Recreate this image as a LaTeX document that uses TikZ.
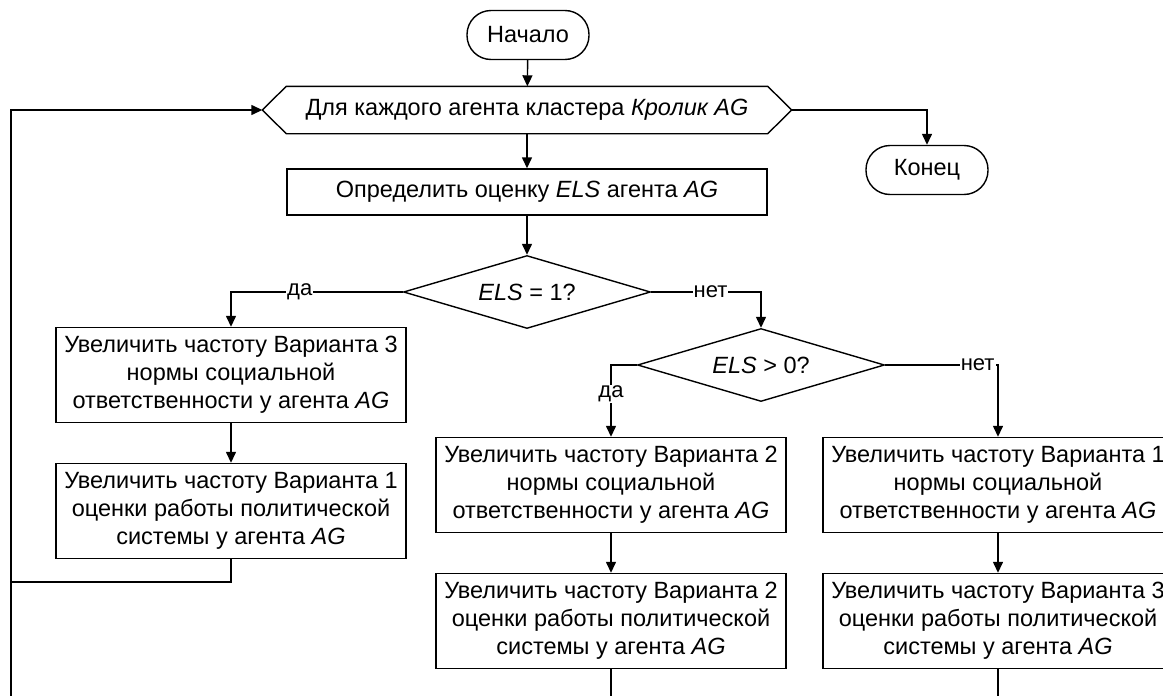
\documentclass[tikz,border=0pt]{standalone}
\usepackage{fontspec}
\setmainfont{Liberation Sans}
\usetikzlibrary{arrows.meta,shapes.geometric}

\begin{document}
\begin{tikzpicture}[x=1pt,y=-1pt,
    line width=1.4pt,
    arr/.style={-{Triangle[length=11pt,width=10pt]}},
    txt/.style={font=\fontsize{23.5pt}{28pt}\selectfont, align=center},
    term/.style={txt, draw, rounded corners=24pt, minimum width=122pt, minimum height=49pt},
    proc/.style={txt, draw, minimum width=350pt, minimum height=95pt, inner sep=2pt},
    dec/.style={txt, draw, diamond, aspect=3.38, inner sep=0pt, minimum width=247pt, minimum height=73pt},
    lbl/.style={font=\fontsize{22pt}{24pt}\selectfont, fill=white, inner sep=1pt}]
    \useasboundingbox (0,0) rectangle (1163,696);

    % start, loop and end
    \node[term] (start) at (528,35) {Начало};
    \node[txt, minimum width=480pt, minimum height=46pt] (loop) at (527,110)
        {Для каждого агента кластера \textit{Кролик AG}};
    \coordinate (loopW) at ([xshift=-24pt]loop.west);
    \coordinate (loopE) at ([xshift=24pt]loop.east);
    \draw (loop.north west) -- (loopW) -- (loop.south west) -- (loop.south east)
        -- (loopE) -- (loop.north east) -- cycle;
    \node[term] (stop) at (927,170) {Конец};

    \node[txt, draw, minimum width=480pt, minimum height=46pt] (els) at (527,192)
        {Определить оценку \textit{ELS} агента \textit{AG}};

    % decisions
    \node[dec] (dec1) at (527,292) {\textit{ELS} = 1?};
    \node[dec] (dec2) at (761,365) {\textit{ELS} > 0?};

    % action boxes
    \node[proc] (normA) at (231,375) {Увеличить частоту Варианта 3\\нормы социальной\\ответственности у агента \textit{AG}};
    \node[proc] (polA) at (231,511) {Увеличить частоту Варианта 1\\оценки работы политической\\системы у агента \textit{AG}};
    \node[proc] (normB) at (611,485) {Увеличить частоту Варианта 2\\нормы социальной\\ответственности у агента \textit{AG}};
    \node[proc] (polB) at (611,621) {Увеличить частоту Варианта 2\\оценки работы политической\\системы у агента \textit{AG}};
    \node[proc] (normC) at (998,485) {Увеличить частоту Варианта 1\\нормы социальной\\ответственности у агента \textit{AG}};
    \node[proc] (polC) at (998,621) {Увеличить частоту Варианта 3\\оценки работы политической\\системы у агента \textit{AG}};

    % main flow
    \draw[arr] (start) -- (loop);
    \draw[arr] (loopE) -| (stop);
    \draw[arr] (loop.south) -- (els);
    \draw[arr] (els) -- (dec1);
    \draw[arr] (dec1.west) -| node[lbl, pos=0.3] {да} (normA);
    \draw[arr] (dec1.east) -| node[lbl, pos=0.27] {нет} (dec2);
    \draw[arr] (dec2.west) -| node[lbl, pos=0.7] {да} (normB);
    \draw[arr] (dec2.east) -| node[lbl, pos=0.41] {нет} (normC);
    \draw[arr] (normA) -- (polA);
    \draw[arr] (normB) -- (polB);
    \draw[arr] (normC) -- (polC);

    % back to the loop
    \coordinate (joinL) at (11,582);
    \coordinate (loopBot) at (11,710);
    \coordinate (botB) at (611,710);
    \coordinate (botC) at (998,710);
    \draw (polA) |- (joinL);
    \draw[arr] (loopBot) |- (loopW);
    \draw (polB) -- (botB);
    \draw (polC) -- (botC);
\end{tikzpicture}
\end{document}
